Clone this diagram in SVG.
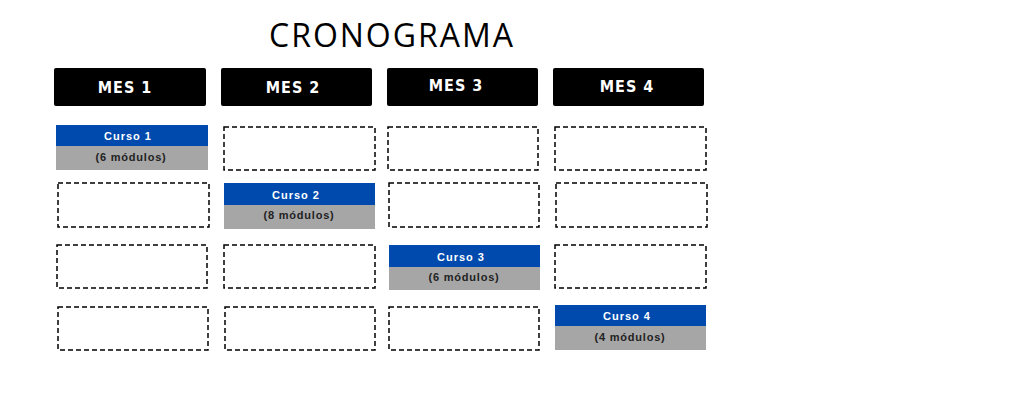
<svg xmlns="http://www.w3.org/2000/svg" width="1024" height="400" viewBox="0 0 1024 400">
<style>
.h{fill:#000}
.ht{font-family:"DejaVu Sans Condensed","DejaVu Sans",sans-serif;font-weight:bold;font-size:16px;fill:#fff;text-anchor:middle;letter-spacing:1px}
.d{fill:none;stroke:#000;stroke-width:1.5;stroke-dasharray:5,3}
.b{fill:#004aad}
.g{fill:#a6a6a6}
.ct{font-family:"Liberation Sans",Arial,sans-serif;font-weight:bold;font-size:11px;fill:#fff;text-anchor:middle;letter-spacing:1px}
.mt{font-family:"Liberation Sans",Arial,sans-serif;font-weight:bold;font-size:11px;fill:#222;text-anchor:middle;letter-spacing:0.8px}
</style>
<rect width="1024" height="400" fill="#fff"/>
<text x="392" y="47" font-family="Open Sans,sans-serif" font-size="32" text-anchor="middle" letter-spacing="2" fill="#000">CRONOGRAMA</text>
<g id="mes1"><rect class="h" x="54" y="68" width="152" height="38" rx="2"/><text class="ht" x="125" y="93">MES 1</text></g>
<g id="mes2"><rect class="h" x="221" y="68" width="151" height="38" rx="2"/><text class="ht" x="293" y="93">MES 2</text></g>
<g id="mes3"><rect class="h" x="387" y="68" width="151" height="38" rx="2"/><text class="ht" x="456" y="91">MES 3</text></g>
<g id="mes4"><rect class="h" x="553" y="68" width="151" height="38" rx="2"/><text class="ht" x="627" y="92">MES 4</text></g>
<g id="curso1"><rect class="b" x="56" y="125" width="152" height="21"/><rect class="g" x="56" y="146" width="152" height="24"/><text class="ct" x="128" y="140">Curso 1</text><text class="mt" x="131" y="161">(6 módulos)</text></g>
<g id="curso2"><rect class="b" x="224" y="183" width="151" height="22"/><rect class="g" x="224" y="205" width="151" height="24"/><text class="ct" x="296" y="199">Curso 2</text><text class="mt" x="299" y="219">(8 módulos)</text></g>
<g id="curso3"><rect class="b" x="389" y="245" width="151" height="22"/><rect class="g" x="389" y="267" width="151" height="23"/><text class="ct" x="461" y="261">Curso 3</text><text class="mt" x="464" y="281">(6 módulos)</text></g>
<g id="curso4"><rect class="b" x="555" y="305" width="151" height="21"/><rect class="g" x="555" y="326" width="151" height="24"/><text class="ct" x="627" y="320">Curso 4</text><text class="mt" x="630" y="341">(4 módulos)</text></g>
<g id="empty">
<rect class="d" x="224" y="127" width="151" height="43"/>
<rect class="d" x="388" y="127" width="150" height="43"/>
<rect class="d" x="555" y="127" width="151" height="43"/>
<rect class="d" x="58" y="183" width="151" height="44"/>
<rect class="d" x="389" y="183" width="150" height="44"/>
<rect class="d" x="556" y="183" width="151" height="44"/>
<rect class="d" x="57" y="245" width="150" height="43"/>
<rect class="d" x="224" y="245" width="151" height="43"/>
<rect class="d" x="555" y="245" width="151" height="43"/>
<rect class="d" x="58" y="307" width="150" height="43"/>
<rect class="d" x="225" y="307" width="150" height="43"/>
<rect class="d" x="389" y="307" width="150" height="43"/>
</g>
<g id="connectors"/>
</svg>
